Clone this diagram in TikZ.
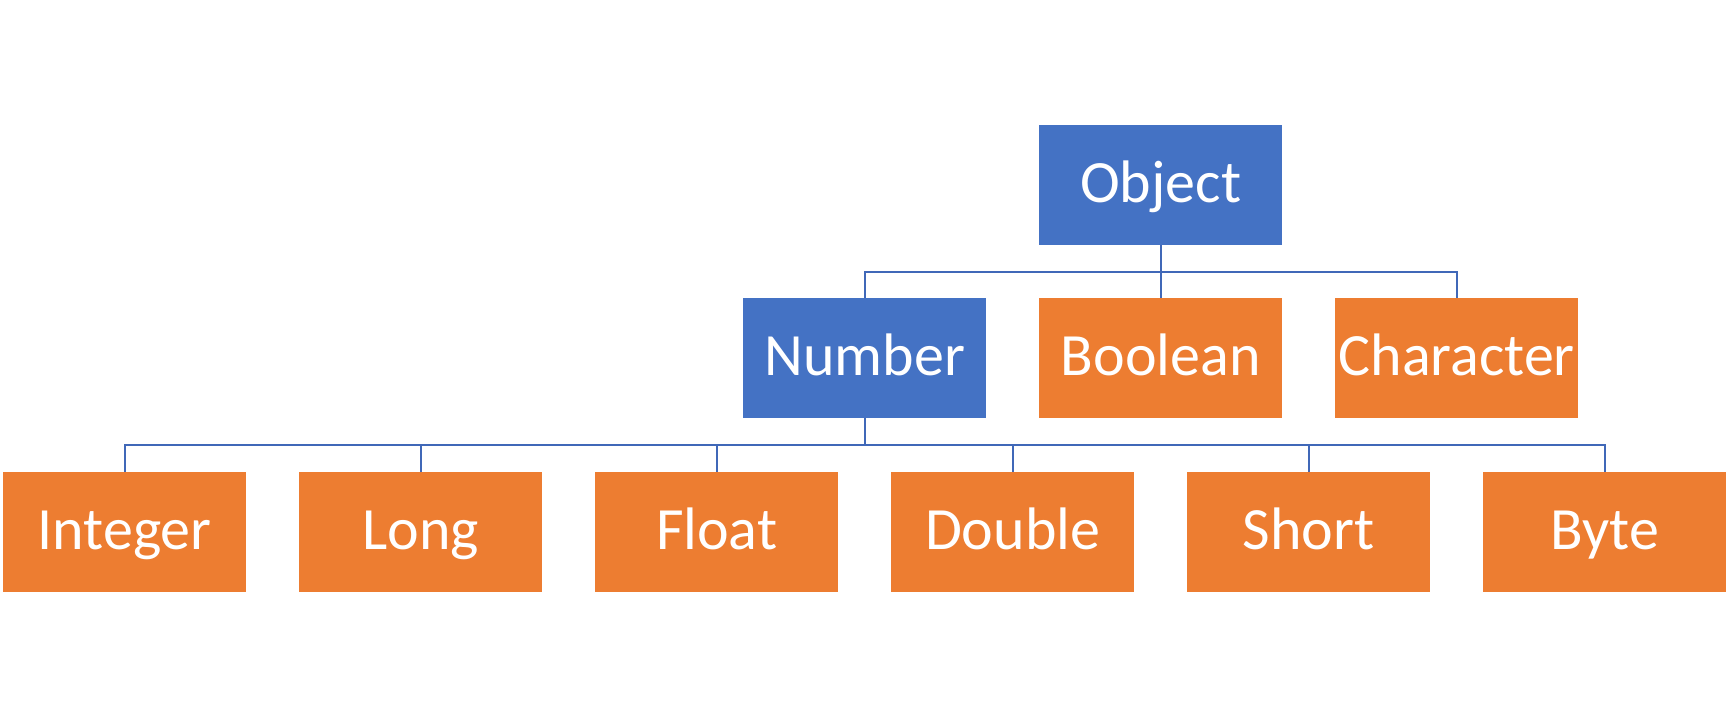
\documentclass[tikz,border=0pt]{standalone}
\usepackage{fontspec}
\setmainfont{Carlito}
\definecolor{blueb}{HTML}{4472C4}
\definecolor{orangeb}{HTML}{ED7D31}
\definecolor{linec}{HTML}{4068B8}
\begin{document}
\begin{tikzpicture}[x=1pt,y=-1pt,
  box/.style={rectangle,minimum width=243pt,minimum height=120pt,inner sep=0pt,
    text=white,font=\fontsize{60}{62}\selectfont,text height=38pt,text depth=3pt,anchor=north west},
  bluebox/.style={box,fill=blueb},
  orbox/.style={box,fill=orangeb},
  conn/.style={draw=linec,line width=2pt}]
\useasboundingbox (0,0) rectangle (1727,714);
\node[bluebox] (obj) at (1039,125) {Object};
\node[bluebox] (num) at (743,298) {Number};
\node[orbox] (bool) at (1039,298) {Boolean};
\node[orbox] (char) at (1335,298) {Character};
\node[orbox] (int) at (3,472) {Integer};
\node[orbox] (lng) at (299,472) {Long};
\node[orbox] (flt) at (595,472) {Float};
\node[orbox] (dbl) at (891,472) {Double};
\node[orbox] (sht) at (1187,472) {Short};
\node[orbox] (byt) at (1483,472) {Byte};
\coordinate (b1) at (0,272);
\coordinate (b2) at (0,445);
\foreach \n in {num,bool,char}
  \draw[conn] (obj.south) -- (obj.south |- b1) -| (\n.north);
\foreach \n in {int,lng,flt,dbl,sht,byt}
  \draw[conn] (num.south) -- (num.south |- b2) -| (\n.north);
\end{tikzpicture}
\end{document}
